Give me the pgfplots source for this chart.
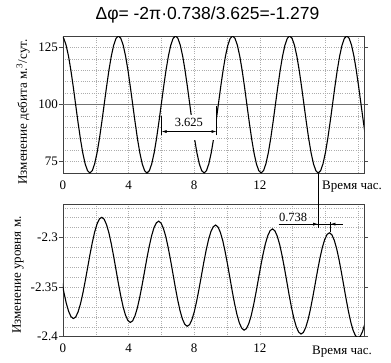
\documentclass[border=0pt]{standalone}
\usepackage{pgfplots}
\pgfplotsset{compat=1.18}
\usetikzlibrary{arrows.meta}
\usepackage{fontspec}
\setmainfont{Liberation Serif}
\newfontfamily\titlefont{Liberation Sans}
\begin{document}
\begin{tikzpicture}
\useasboundingbox (-63pt,-189pt) rectangle (328pt,173pt);
\pgfplotsset{
 myaxis/.style={
  scale only axis, width=301pt, xmin=0, xmax=18.35,
  xtick={0,4,8,12}, minor xtick={2,6,10,14,16,18},
  grid=both,
  major grid style={dash pattern=on 0.8pt off 1.4pt, black!32, line width=0.55pt},
  minor grid style={dash pattern=on 0.8pt off 1.4pt, black!32, line width=0.55pt},
  axis line style={black!75, line width=0.9pt},
  tick align=outside, major tick length=4pt, minor tick length=0pt,
  xtick style={draw=none},
  ytick style={black!70, line width=0.7pt},
  tick label style={font=\rmfamily\fontsize{13}{15}\selectfont},
  /pgf/number format/assume math mode=true,
  xticklabel style={anchor=base, yshift=-12pt},
  yticklabel style={inner sep=1pt},
  label style={font=\rmfamily\fontsize{13}{15}\selectfont},
 }
}
\node[font=\titlefont\fontsize{17.5}{20}\selectfont] at (144.5pt,158pt) {Δφ= -2π·0.738/3.625=-1.279};
% top axis
\begin{axis}[myaxis, at={(0,0)}, anchor=south west, height=137pt,
  ymin=70, ymax=130, ytick={75,100,125},
  minor ytick={80,85,90,95,105,110,115,120},
  ylabel={Изменение дебита м.\textsuperscript{3}/сут.},
  ylabel style={at={(axis description cs:-0.133,0.445)}, anchor=center}]
\draw[black!55, line width=0.8pt] (axis cs:0,100) -- (axis cs:18.35,100);
\addplot[black, line width=1.1pt] coordinates {
(-0.1,130) (0.045,128.98) (0.19,125.98) (0.335,121.21) (0.48,115) (0.625,107.76) (0.77,100) (0.915,92.24) (1.06,85) (1.205,78.79) (1.35,74.02) (1.495,71.02) (1.64,70) (1.785,71.02) (1.93,74.02) (2.075,78.79) (2.22,85) (2.365,92.24) (2.51,100) (2.655,107.76) (2.8,115) (2.945,121.21) (3.09,125.98) (3.235,128.98)
(3.38,130) (3.525,128.98) (3.67,125.98) (3.815,121.21) (3.96,115) (4.105,107.76) (4.25,100) (4.395,92.24) (4.54,85) (4.685,78.79) (4.83,74.02) (4.975,71.02) (5.12,70) (5.265,71.02) (5.41,74.02) (5.555,78.79) (5.7,85) (5.845,92.24) (5.99,100) (6.135,107.76) (6.28,115) (6.425,121.21) (6.57,125.98) (6.715,128.98)
(6.86,130) (7.005,128.98) (7.15,125.98) (7.295,121.21) (7.44,115) (7.585,107.76) (7.73,100) (7.875,92.24) (8.02,85) (8.165,78.79) (8.31,74.02) (8.455,71.02) (8.6,70) (8.745,71.02) (8.89,74.02) (9.035,78.79) (9.18,85) (9.325,92.24) (9.47,100) (9.615,107.76) (9.76,115) (9.905,121.21) (10.05,125.98) (10.195,128.98)
(10.34,130) (10.485,128.98) (10.63,125.98) (10.775,121.21) (10.92,115) (11.065,107.76) (11.21,100) (11.355,92.24) (11.5,85) (11.645,78.79) (11.79,74.02) (11.935,71.02) (12.08,70) (12.225,71.02) (12.37,74.02) (12.515,78.79) (12.66,85) (12.805,92.24) (12.95,100) (13.095,107.76) (13.24,115) (13.385,121.21) (13.53,125.98) (13.675,128.98)
(13.82,130) (13.965,128.98) (14.11,125.98) (14.255,121.21) (14.4,115) (14.545,107.76) (14.69,100) (14.835,92.24) (14.98,85) (15.125,78.79) (15.27,74.02) (15.415,71.02) (15.56,70) (15.705,71.02) (15.85,74.02) (15.995,78.79) (16.14,85) (16.285,92.24) (16.43,100) (16.575,107.76) (16.72,115) (16.865,121.21) (17.01,125.98) (17.155,128.98)
(17.3,130) (17.445,128.98) (17.59,125.98) (17.735,121.21) (17.88,115) (18.025,107.76) (18.17,100) (18.315,92.24) (18.46,85)
};
\fill[white] (axis cs:6.06,84.5) rectangle (axis cs:9.3,95.6);
\draw[line width=0.6pt] (axis cs:6.01,86.45) -- (axis cs:6.01,95.0);
\draw[line width=0.6pt] (axis cs:9.36,86.45) -- (axis cs:9.36,99.27);
\draw[line width=0.6pt, {Latex[length=5pt,width=3pt]}-{Latex[length=5pt,width=3pt]}] (axis cs:6.01,88.16) -- (axis cs:9.36,88.16);
\node[anchor=base, inner sep=0pt, font=\rmfamily\fontsize{12.5}{14}\selectfont] at (axis cs:7.67,90.5) {3.625};
\coordinate (c1) at (axis cs:15.56,70);
\end{axis}
\node[anchor=base west, inner sep=0pt, font=\rmfamily\fontsize{13}{15}\selectfont] at (259pt,-16.3pt) {Время час.};
% bottom axis
\begin{axis}[myaxis, at={(0,-163.7pt)}, anchor=south west, height=132.4pt,
  ymin=-2.4, ymax=-2.2665, ytick={-2.4,-2.35,-2.3}, yticklabels={-2.4,-2.35,-2.3},
  minor ytick={-2.39,-2.38,-2.37,-2.36,-2.34,-2.33,-2.32,-2.31,-2.29,-2.28,-2.27},
  ylabel={Изменение уровня м.},
  ylabel style={at={(axis description cs:-0.1495,0.466)}, anchor=center}]
\addplot[black, line width=1.1pt] coordinates {
(-0.093,-2.3424) (0.052,-2.3551) (0.196,-2.3660) (0.341,-2.3744) (0.485,-2.3797) (0.630,-2.3817) (0.775,-2.3801) (0.919,-2.3750) (1.064,-2.3670) (1.208,-2.3564) (1.353,-2.3440) (1.498,-2.3307) (1.642,-2.3173) (1.787,-2.3050) (1.931,-2.2944) (2.076,-2.2863) (2.220,-2.2813) (2.365,-2.2796) (2.510,-2.2816) (2.654,-2.2870) (2.799,-2.2953) (2.943,-2.3063) (3.088,-2.3190) (3.233,-2.3326)
(3.377,-2.3463) (3.522,-2.3590) (3.666,-2.3699) (3.811,-2.3783) (3.955,-2.3836) (4.100,-2.3856) (4.245,-2.3840) (4.389,-2.3789) (4.534,-2.3709) (4.678,-2.3603) (4.823,-2.3479) (4.968,-2.3346) (5.112,-2.3212) (5.257,-2.3089) (5.401,-2.2983) (5.546,-2.2902) (5.690,-2.2852) (5.835,-2.2835) (5.980,-2.2855) (6.124,-2.2909) (6.269,-2.2992) (6.413,-2.3102) (6.558,-2.3229) (6.703,-2.3365)
(6.847,-2.3502) (6.992,-2.3629) (7.136,-2.3738) (7.281,-2.3822) (7.425,-2.3875) (7.570,-2.3895) (7.715,-2.3879) (7.859,-2.3828) (8.004,-2.3748) (8.148,-2.3642) (8.293,-2.3518) (8.438,-2.3385) (8.582,-2.3251) (8.727,-2.3128) (8.871,-2.3022) (9.016,-2.2941) (9.160,-2.2891) (9.305,-2.2874) (9.450,-2.2894) (9.594,-2.2948) (9.739,-2.3031) (9.883,-2.3141) (10.028,-2.3268) (10.173,-2.3404)
(10.317,-2.3541) (10.462,-2.3668) (10.606,-2.3777) (10.751,-2.3861) (10.895,-2.3914) (11.040,-2.3934) (11.185,-2.3918) (11.329,-2.3867) (11.474,-2.3787) (11.618,-2.3681) (11.763,-2.3557) (11.908,-2.3424) (12.052,-2.3290) (12.197,-2.3167) (12.341,-2.3061) (12.486,-2.2980) (12.630,-2.2930) (12.775,-2.2913) (12.920,-2.2933) (13.064,-2.2987) (13.209,-2.3070) (13.353,-2.3180) (13.498,-2.3307) (13.643,-2.3443)
(13.787,-2.3580) (13.932,-2.3707) (14.076,-2.3816) (14.221,-2.3900) (14.365,-2.3953) (14.510,-2.3973) (14.655,-2.3957) (14.799,-2.3906) (14.944,-2.3826) (15.088,-2.3720) (15.233,-2.3596) (15.378,-2.3463) (15.522,-2.3329) (15.667,-2.3206) (15.811,-2.3100) (15.956,-2.3019) (16.100,-2.2969) (16.245,-2.2952) (16.390,-2.2972) (16.534,-2.3026) (16.679,-2.3109) (16.823,-2.3219) (16.968,-2.3346) (17.113,-2.3482)
(17.257,-2.3618) (17.402,-2.3745) (17.546,-2.3854) (17.691,-2.3938) (17.835,-2.3991) (17.980,-2.4011) (18.125,-2.3995) (18.269,-2.3944) (18.414,-2.3864)
};
\node[anchor=base, inner sep=1pt, fill=white, font=\rmfamily\fontsize{12.5}{14}\selectfont] at (axis cs:14.03,-2.2841) {0.738};
\draw[line width=0.6pt] (axis cs:16.3,-2.2946) -- (axis cs:16.3,-2.2844);
\draw[line width=0.6pt] (axis cs:13.15,-2.2865) -- (axis cs:17.05,-2.2865);
\draw[line width=0.6pt, -{Latex[length=5pt,width=3pt]}] (axis cs:14.9,-2.2865) -- (axis cs:15.56,-2.2865);
\draw[line width=0.6pt, -{Latex[length=5pt,width=3pt]}] (axis cs:16.95,-2.2865) -- (axis cs:16.3,-2.2865);
\coordinate (c2) at (axis cs:15.56,-2.2905);
\end{axis}
\draw[line width=0.6pt] (c1) -- (c2);
\node[anchor=base west, inner sep=0pt, font=\rmfamily\fontsize{13}{15}\selectfont] at (249pt,-181pt) {Время час.};
\end{tikzpicture}
\end{document}
